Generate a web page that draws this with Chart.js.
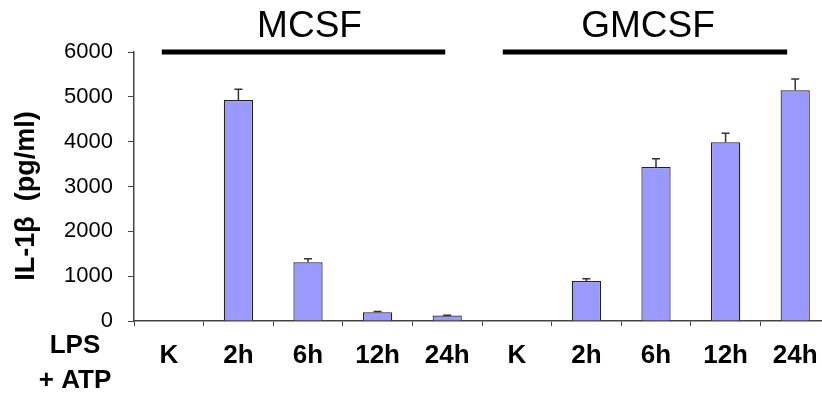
<!DOCTYPE html>
<html>
<head>
<meta charset="utf-8">
<script src="https://cdn.jsdelivr.net/npm/chart.js@4"></script>
<style>
  html, body { margin: 0; padding: 0; background: #fff; overflow: hidden; }
  #wrap { width: 840px; height: 394px; }
</style>
</head>
<body>
<div id="wrap"><canvas id="il1bChart" width="840" height="394"></canvas></div>
<script>
// dados
const categories = ['K', '2h', '6h', '12h', '24h', 'K', '2h', '6h', '12h', '24h'];
const groups = ['MCSF', 'GMCSF'];
const il1bValues = [0, 4930, 1310, 195, 120, 0, 890, 3435, 3985, 5145];
const il1bErrors = [0, 240, 80, 15, 10, 0, 55, 185, 200, 255];
const yTicks = [0, 1000, 2000, 3000, 4000, 5000, 6000];

const FONT = '"Liberation Sans", Arial, Helvetica, sans-serif';

// barras de erro (so para cima)
const errorBars = {
  id: 'errorBars',
  afterDatasetsDraw(chart) {
    const ctx = chart.ctx;
    const y = chart.scales.y;
    const meta = chart.getDatasetMeta(0);
    ctx.save();
    ctx.strokeStyle = '#333';
    ctx.lineWidth = 1.5;
    meta.data.forEach((bar, i) => {
      if (!il1bErrors[i]) return;
      const yTop = y.getPixelForValue(il1bValues[i]);
      const yErr = y.getPixelForValue(il1bValues[i] + il1bErrors[i]);
      ctx.beginPath();
      ctx.moveTo(bar.x, yTop);
      ctx.lineTo(bar.x, yErr);
      ctx.moveTo(bar.x - 4, yErr);
      ctx.lineTo(bar.x + 4, yErr);
      ctx.stroke();
    });
    ctx.restore();
  }
};

// titulos dos grupos, linhas e rotulos extras
const decorations = {
  id: 'decorations',
  afterDraw(chart) {
    const ctx = chart.ctx;
    const x = chart.scales.x;
    const area = chart.chartArea;
    ctx.save();

    // grupos: MCSF (0-4) e GMCSF (5-9)
    const spans = [[0, 4, -7, -2], [5, 9, -14, -8]];
    spans.forEach((s, g) => {
      const x0 = x.getPixelForValue(s[0]) + s[2];
      const x1 = x.getPixelForValue(s[1]) + s[3];
      ctx.strokeStyle = '#000';
      ctx.lineWidth = 5;
      ctx.beginPath();
      ctx.moveTo(x0, area.top);
      ctx.lineTo(x1, area.top);
      ctx.stroke();
      ctx.fillStyle = '#000';
      ctx.font = '37px ' + FONT;
      ctx.textAlign = 'center';
      ctx.textBaseline = 'alphabetic';
      ctx.fillText(groups[g], (x0 + x1) / 2 + 6 - 3 * g, 37);
    });

    // LPS + ATP
    ctx.font = 'bold 26px ' + FONT;
    ctx.textAlign = 'center';
    ctx.fillText('LPS', 75, 353);
    ctx.fillText('+ ATP', 75, 388);

    // titulo do eixo y
    ctx.translate(34, 196);
    ctx.rotate(-Math.PI / 2);
    ctx.font = 'bold 27px ' + FONT;
    ctx.textAlign = 'center';
    ctx.textBaseline = 'alphabetic';
    ctx.fillText('IL-1\u03B2  (pg/ml)', 0, 0);
    ctx.restore();
  }
};

document.addEventListener('DOMContentLoaded', () => {
  const ctx = document.getElementById('il1bChart').getContext('2d');

  new Chart(ctx, {
    type: 'bar',
    data: {
      labels: categories,
      datasets: [{
        data: il1bValues,
        backgroundColor: '#9999FF',
        borderColor: '#222',
        borderWidth: 1.2,
        barPercentage: 0.42,
        categoryPercentage: 1
      }]
    },
    options: {
      responsive: false,
      animation: false,
      devicePixelRatio: 1,
      layout: { padding: { top: 52, right: 10, left: 0, bottom: 0 } },
      plugins: {
        legend: { display: false },
        tooltip: { enabled: false }
      },
      scales: {
        x: {
          afterFit(scale) { scale.height = 73; },
          grid: {
            drawOnChartArea: false,
            offset: true,
            tickLength: 5,
            color: '#444'
          },
          border: { color: '#444', width: 1.5 },
          ticks: {
            color: '#000',
            padding: 14,
            font: { family: FONT, size: 26, weight: 'bold' }
          }
        },
        y: {
          min: 0,
          max: 6000,
          afterFit(scale) { scale.width = 134; },
          afterBuildTicks(scale) {
            scale.ticks = yTicks.map(v => ({ value: v }));
          },
          grid: {
            drawOnChartArea: false,
            tickLength: 6,
            color: '#444'
          },
          border: { color: '#444', width: 1.5 },
          ticks: {
            color: '#000',
            padding: 15,
            font: { family: FONT, size: 22 },
            callback: (v) => String(v)
          }
        }
      }
    },
    plugins: [errorBars, decorations]
  });
});
</script>
</body>
</html>
